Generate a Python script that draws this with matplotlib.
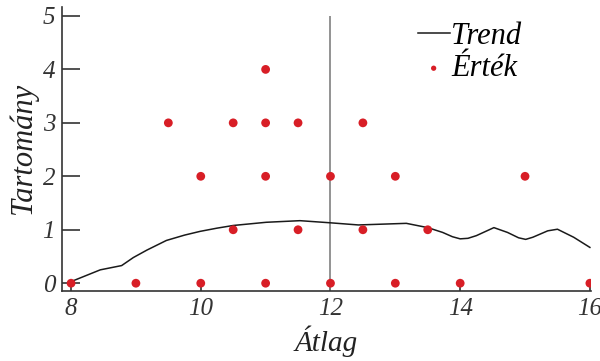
import numpy as np
import matplotlib
matplotlib.use('Agg')
import matplotlib.pyplot as plt

# pontok (Átlag, Tartomány)
pt_x = [8, 9, 10, 11, 12, 13, 14, 16,
        10.5, 11.5, 12.5, 13.5,
        10, 11, 12, 13, 15,
        9.5, 10.5, 11, 11.5, 12.5,
        11]
pt_y = [0, 0, 0, 0, 0, 0, 0, 0,
        1, 1, 1, 1,
        2, 2, 2, 2, 2,
        3, 3, 3, 3, 3,
        4]

# trend görbe
tr_x = [8.0, 8.45, 8.78, 8.96, 9.17, 9.47, 9.75, 9.99, 10.25, 10.5, 11.01,
        11.53, 12.0, 12.43, 13.17, 13.5, 13.73, 13.88, 14.0, 14.12, 14.25,
        14.52, 14.73, 14.9, 15.01, 15.12, 15.35, 15.5, 15.75, 16.0]
tr_y = [0.03, 0.25, 0.33, 0.48, 0.62, 0.80, 0.90, 0.97, 1.03, 1.08, 1.14,
        1.17, 1.13, 1.09, 1.12, 1.04, 0.95, 0.87, 0.83, 0.84, 0.89,
        1.04, 0.95, 0.85, 0.82, 0.86, 0.98, 1.01, 0.86, 0.67]

vline_x = 12
vline_top = 5

plt.rcParams['font.family'] = ['Liberation Serif', 'DejaVu Serif']
plt.rcParams['font.style'] = 'italic'

fig = plt.figure(figsize=(6, 3.61), dpi=100)
ax = fig.add_axes([0.1033, 0.194, 0.882, 0.787])

ymin = -0.145
ax.vlines(vline_x, ymin, vline_top, color='#808080', linewidth=1.2)
ax.plot(tr_x, tr_y, color='#1a1a1a', linewidth=1.1, label='Trend')
ax.scatter(pt_x, pt_y, s=40, color='#d81e26', zorder=3, label='Érték',
           edgecolors='none')

ax.set_xlim(7.86, 16.02)
ax.set_ylim(ymin, 5.17)
ax.set_xticks([8, 10, 12, 14, 16])
ax.set_yticks([0, 1, 2, 3, 4, 5])

for s in ['top', 'right']:
    ax.spines[s].set_visible(False)
for s in ['left', 'bottom']:
    ax.spines[s].set_color('#333333')
    ax.spines[s].set_linewidth(1.2)

ax.tick_params(axis='y', direction='in', length=13, width=1.2, color='#333333',
               labelsize=18, pad=5, labelcolor='#333333')
ax.tick_params(axis='x', direction='in', length=7, width=1.2, color='#333333',
               labelsize=18, pad=5, labelcolor='#333333')

ax.set_xlabel('Átlag', fontsize=21, color='#222222', labelpad=4)
ax.set_ylabel('Tartomány', fontsize=22, color='#222222', labelpad=3)

ax.legend(loc='upper right', bbox_to_anchor=(0.92, 1.045), frameon=False,
          fontsize=22, handlelength=1.05, handletextpad=0.05,
          labelspacing=0.12, markerscale=0.6)

fig.savefig('out.png', dpi=100)
